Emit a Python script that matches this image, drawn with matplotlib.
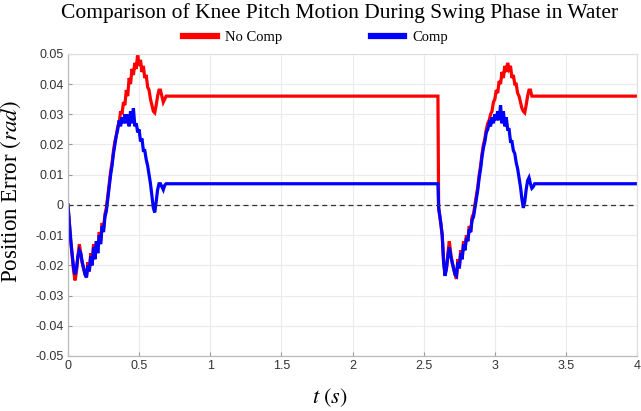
import matplotlib
matplotlib.use("Agg")
import matplotlib.pyplot as plt
from matplotlib.ticker import FuncFormatter

# ---- data ----
t_red = [0.00, 0.02, 0.04, 0.05, 0.06, 0.07, 0.08, 0.09, 0.10, 0.11, 0.12, 0.13, 0.14, 0.15,
         0.16, 0.17, 0.18, 0.19, 0.20, 0.21, 0.22, 0.23, 0.24, 0.25, 0.26, 0.27, 0.28, 0.29,
         0.30, 0.31, 0.32, 0.33, 0.34, 0.35, 0.36, 0.37, 0.38, 0.39, 0.40, 0.41, 0.42, 0.43,
         0.44, 0.45, 0.46, 0.47, 0.48, 0.49, 0.50, 0.51, 0.52, 0.53, 0.54, 0.55, 0.56, 0.57,
         0.58, 0.59, 0.60, 0.61, 0.62, 0.63, 0.64, 0.65, 0.66, 0.67, 0.68, 0.69, 2.600,
         2.605, 2.62, 2.63, 2.64, 2.65, 2.66, 2.67, 2.68, 2.69, 2.70, 2.71, 2.72, 2.73, 2.74,
         2.75, 2.76, 2.77, 2.78, 2.79, 2.80, 2.81, 2.82, 2.83, 2.84, 2.85, 2.86, 2.87, 2.88,
         2.89, 2.90, 2.91, 2.92, 2.93, 2.94, 2.95, 2.96, 2.97, 2.98, 2.99, 3.00, 3.01, 3.02,
         3.03, 3.04, 3.05, 3.06, 3.07, 3.08, 3.09, 3.10, 3.11, 3.12, 3.13, 3.14, 3.15, 3.16,
         3.17, 3.18, 3.19, 3.20, 3.21, 3.22, 3.23, 3.24, 3.25, 3.26, 3.27, 4.00]
no_comp = [0.0, -0.012, -0.022, -0.025, -0.022, -0.017, -0.013, -0.016, -0.019, -0.021, -0.023,
           -0.024, -0.019, -0.022, -0.016, -0.020, -0.013, -0.017, -0.012, -0.015, -0.009,
           -0.012, -0.006, -0.008, -0.003, -0.001, 0.003, 0.007, 0.011, 0.014, 0.018, 0.021,
           0.023, 0.026, 0.027, 0.031, 0.030, 0.034, 0.033, 0.038, 0.036, 0.042, 0.040, 0.045,
           0.043, 0.047, 0.045, 0.050, 0.046, 0.048, 0.044, 0.046, 0.042, 0.043, 0.039, 0.038,
           0.035, 0.033, 0.031, 0.0305, 0.033, 0.036, 0.038, 0.038, 0.036, 0.034, 0.035, 0.036,
           0.036,
           -0.001, -0.006, -0.010, -0.019, -0.023, -0.021, -0.016, -0.012, -0.016, -0.019,
           -0.021, -0.023, -0.0245, -0.018, -0.021, -0.015, -0.018, -0.012, -0.015, -0.010,
           -0.012, -0.007, -0.009, -0.004, -0.003, 0.000, 0.003, 0.006, 0.010, 0.013, 0.017,
           0.020, 0.022, 0.025, 0.027, 0.028, 0.030, 0.031, 0.034, 0.035, 0.038, 0.037, 0.041,
           0.040, 0.044, 0.042, 0.046, 0.044, 0.047, 0.045, 0.046, 0.042, 0.043, 0.040, 0.040,
           0.037, 0.036, 0.034, 0.032, 0.031, 0.0305, 0.033, 0.036, 0.038, 0.038, 0.036, 0.036,
           0.036]

t_blue = [0.00, 0.02, 0.04, 0.05, 0.06, 0.07, 0.08, 0.09, 0.10, 0.11, 0.12, 0.13, 0.14, 0.15,
          0.16, 0.17, 0.18, 0.19, 0.20, 0.21, 0.22, 0.23, 0.24, 0.25, 0.26, 0.27, 0.28, 0.29,
          0.30, 0.31, 0.32, 0.33, 0.34, 0.35, 0.36, 0.37, 0.38, 0.39, 0.40, 0.41, 0.42, 0.43,
          0.44, 0.45, 0.46, 0.47, 0.48, 0.49, 0.50, 0.51, 0.52, 0.53, 0.54, 0.55, 0.56, 0.57,
          0.58, 0.59, 0.60, 0.61, 0.62, 0.63, 0.64, 0.65, 0.66, 0.67, 0.68, 0.69, 2.600,
          2.605, 2.62, 2.63, 2.64, 2.65, 2.66, 2.67, 2.68, 2.69, 2.70, 2.71, 2.72, 2.73, 2.74,
          2.75, 2.76, 2.77, 2.78, 2.79, 2.80, 2.81, 2.82, 2.83, 2.84, 2.85, 2.86, 2.87, 2.88,
          2.89, 2.90, 2.91, 2.92, 2.93, 2.94, 2.95, 2.96, 2.97, 2.98, 2.99, 3.00, 3.01, 3.02,
          3.03, 3.04, 3.05, 3.06, 3.07, 3.08, 3.09, 3.10, 3.11, 3.12, 3.13, 3.14, 3.15, 3.16,
          3.17, 3.18, 3.19, 3.20, 3.21, 3.22, 3.23, 3.24, 3.25, 3.26, 3.27, 3.28, 4.00]
comp = [0.0, -0.012, -0.021, -0.023, -0.021, -0.017, -0.015, -0.016, -0.019, -0.021, -0.023,
        -0.024, -0.020, -0.022, -0.017, -0.020, -0.014, -0.018, -0.012, -0.016, -0.010, -0.013,
        -0.007, -0.009, -0.004, -0.002, 0.002, 0.006, 0.010, 0.013, 0.017, 0.020, 0.023, 0.025,
        0.028, 0.026, 0.029, 0.027, 0.030, 0.027, 0.030, 0.026, 0.031, 0.027, 0.032, 0.026,
        0.027, 0.024, 0.025, 0.021, 0.022, 0.018, 0.018, 0.015, 0.013, 0.010, 0.007, 0.003,
        -0.001, -0.0025, 0.001, 0.005, 0.007, 0.007, 0.006, 0.005, 0.0065, 0.007,
        0.007,
        -0.001, -0.006, -0.010, -0.019, -0.0235, -0.021, -0.017, -0.014, -0.017, -0.019,
        -0.021, -0.023, -0.0235, -0.019, -0.021, -0.016, -0.018, -0.013, -0.015, -0.011,
        -0.012, -0.008, -0.009, -0.005, -0.004, -0.001, 0.002, 0.005, 0.009, 0.012, 0.016,
        0.019, 0.021, 0.024, 0.025, 0.027, 0.026, 0.029, 0.027, 0.030, 0.028, 0.031, 0.028,
        0.033, 0.027, 0.031, 0.026, 0.029, 0.025, 0.025, 0.021, 0.021, 0.018, 0.017, 0.014,
        0.012, 0.009, 0.006, 0.002, -0.001, 0.001, 0.005, 0.008, 0.009, 0.007, 0.0055, 0.006,
        0.007, 0.007]

x_ticks = [0, 0.5, 1, 1.5, 2, 2.5, 3, 3.5, 4]
y_ticks = [-0.05, -0.04, -0.03, -0.02, -0.01, 0, 0.01, 0.02, 0.03, 0.04, 0.05]

# ---- style ----
plt.rcParams['mathtext.fontset'] = 'stix'
serif = 'Liberation Serif'
sans = 'Liberation Sans'

fig = plt.figure(figsize=(6.41, 4.11), dpi=100)
ax = fig.add_axes([0.106, 0.134, 0.888, 0.735])

ax.plot(t_red, no_comp, color='#ff0000', lw=2.3, label='No Comp', solid_joinstyle='miter')
ax.plot(t_blue, comp, color='#0000ff', lw=2.3, label='Comp', solid_joinstyle='miter')
ax.axhline(0, color='#333333', lw=0.9, ls=(0, (4, 3)))

ax.set_xlim(0, 4)
ax.set_ylim(-0.05, 0.05)
ax.set_xticks(x_ticks)
ax.set_yticks(y_ticks)
ax.xaxis.set_major_formatter(FuncFormatter(lambda v, p: ('%g' % v)))
ax.yaxis.set_major_formatter(FuncFormatter(lambda v, p: ('%g' % round(v, 2))))
ax.grid(True, color='#ebebeb', lw=0.8)
ax.set_axisbelow(True)
ax.tick_params(direction='in', length=3, color='#999999', labelsize=9, labelcolor='#333333',
               pad=3)
for lab in ax.get_xticklabels() + ax.get_yticklabels():
    lab.set_family(sans)
for s in ax.spines.values():
    s.set_color('#bbbbbb')
    s.set_linewidth(0.9)
ax.spines['top'].set_color('#e0e0e0')
ax.spines['right'].set_color('#e0e0e0')

fig.text(0.529, 0.968, 'Comparison of Knee Pitch Motion During Swing Phase in Water',
         ha='center', va='center', family=serif, fontsize=15.5)
ax.set_xlabel(r'$t\ (s)$', fontsize=16)
ax.xaxis.set_label_coords(0.46, -0.10)
ax.set_ylabel(r'Position Error $(rad)$', family=serif, fontsize=16.5)
ax.yaxis.set_label_coords(-0.079, 0.545)

leg = fig.legend(handles=ax.get_lines()[:2], loc='center left',
                 bbox_to_anchor=(183 / 641, 1 - 37.7 / 411), ncol=2, frameon=False,
                 prop={'family': serif, 'size': 10.5}, handlelength=2.3, columnspacing=6.1,
                 handletextpad=0.55, borderpad=0, borderaxespad=0)
for h in leg.get_lines():
    h.set_linewidth(4.5)

fig.savefig('out.png', dpi=100)
